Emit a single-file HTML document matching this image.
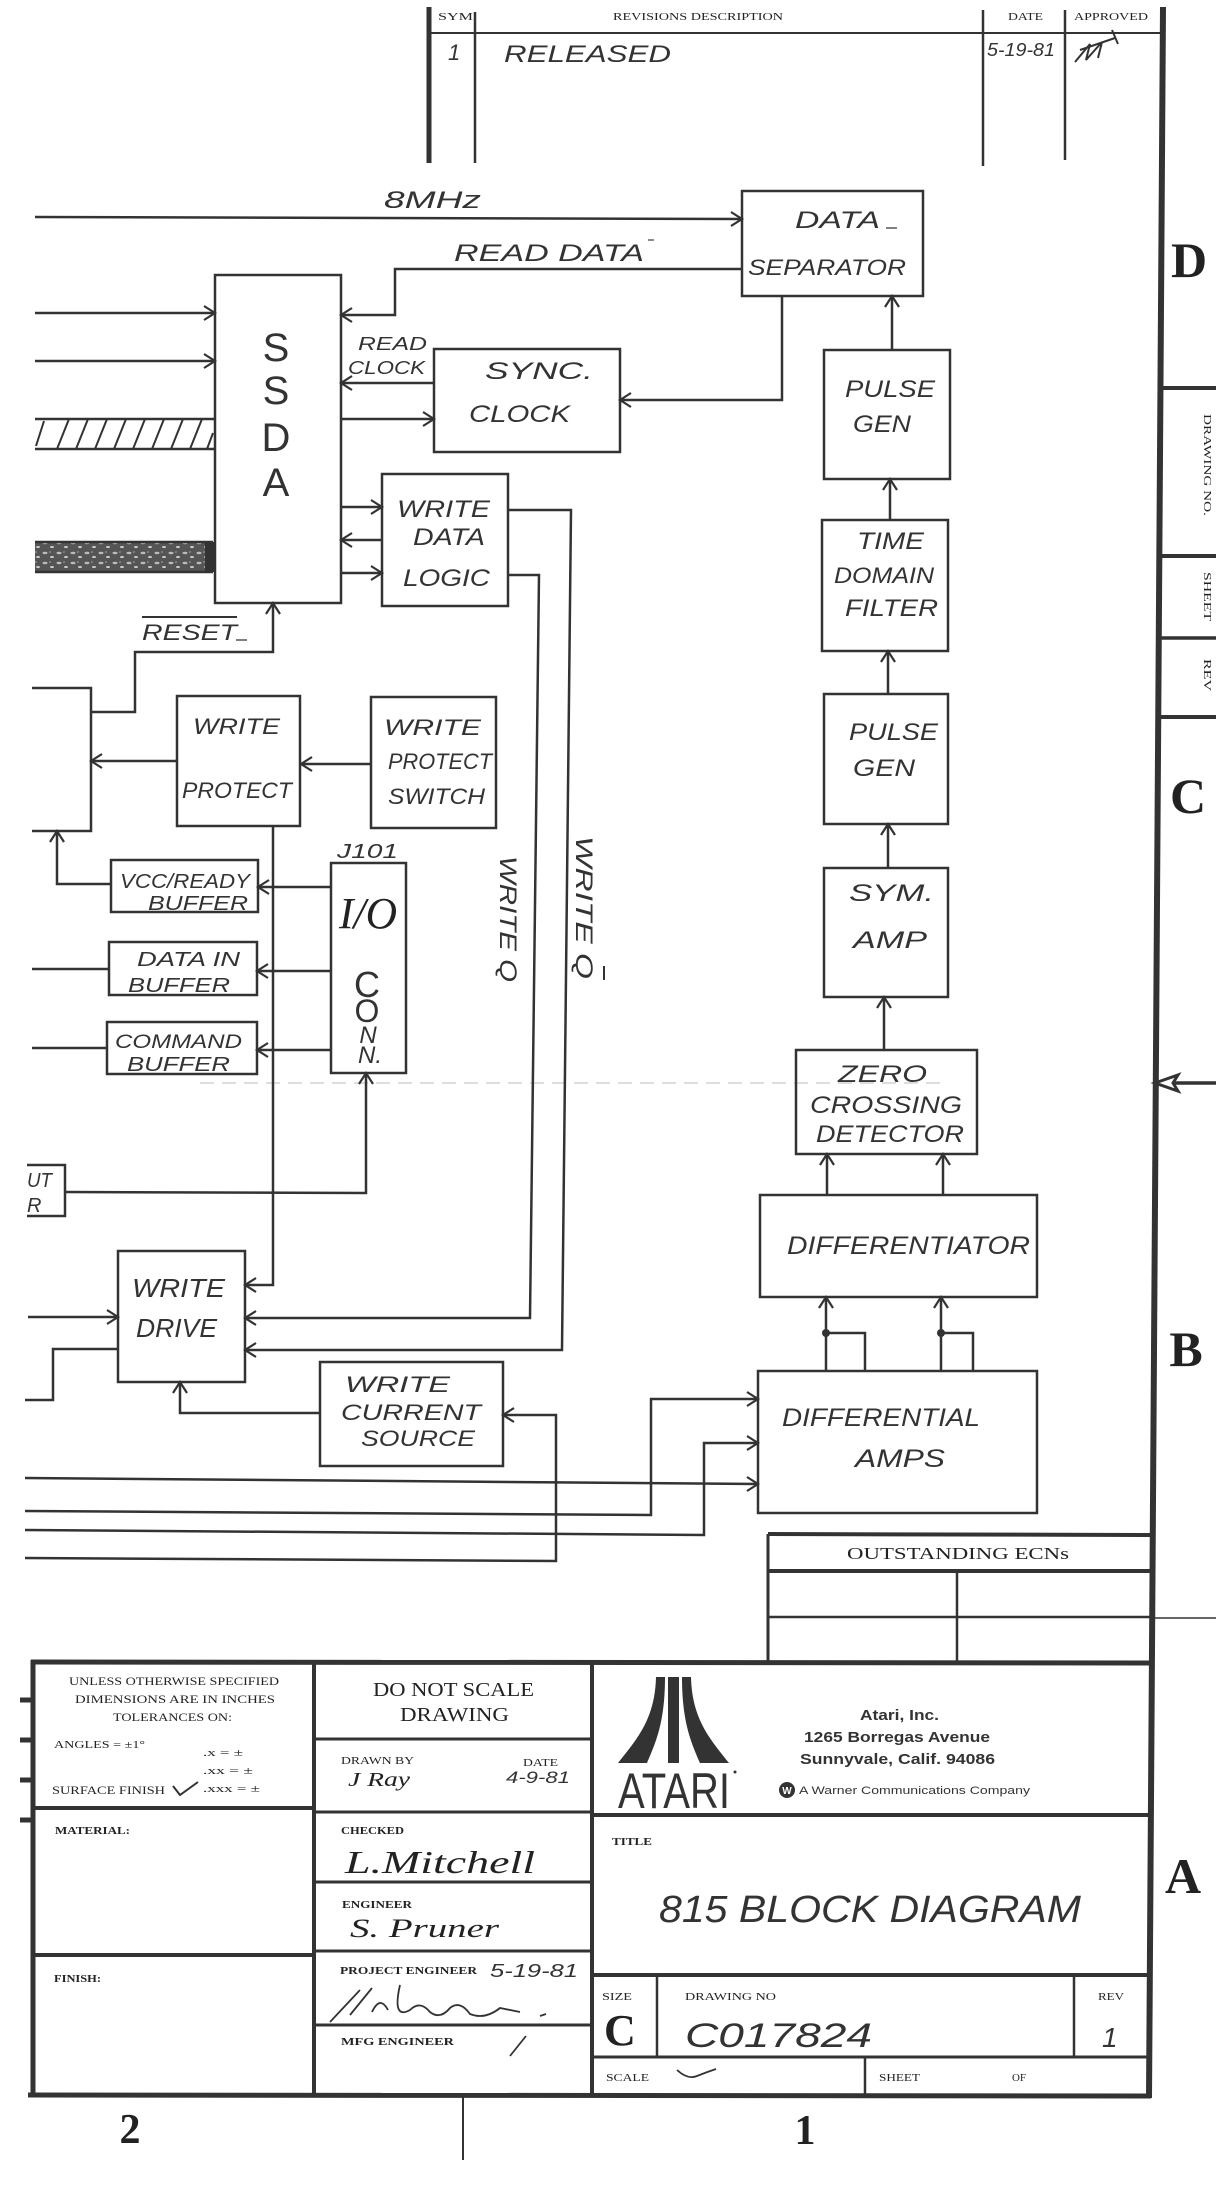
<!DOCTYPE html>
<html><head><meta charset="utf-8"><style>
html,body{margin:0;padding:0;background:#fff;}
svg{display:block;}
.t{font-family:"Liberation Sans",sans-serif;font-style:italic;fill:#333;}
.u{font-family:"Liberation Sans",sans-serif;fill:#333;}
.s{font-family:"Liberation Serif",serif;fill:#222;}
.l{fill:none;stroke:#333;stroke-width:2.5;stroke-linejoin:miter;}
.a{fill:none;stroke:#333;stroke-width:2.2;}
</style></head><body>
<svg width="1216" height="2189" viewBox="0 0 1216 2189" xmlns="http://www.w3.org/2000/svg">
<defs>
<pattern id="mot" width="14" height="10" patternUnits="userSpaceOnUse">
<rect width="14" height="10" fill="#555"/>
<ellipse cx="3" cy="3" rx="2.5" ry="1.2" fill="#bbb"/>
<ellipse cx="10" cy="7" rx="2" ry="1" fill="#ccc"/>
<ellipse cx="8" cy="2" rx="1" ry="0.8" fill="#999"/>
</pattern>
</defs>
<rect width="1216" height="2189" fill="#fff"/>

<!-- Revision table -->
<line x1="429" y1="7" x2="429" y2="163" stroke="#333" stroke-width="5"/>
<line x1="475" y1="12" x2="475" y2="163" stroke="#333" stroke-width="2.5"/>
<line x1="983" y1="10" x2="983" y2="166" stroke="#333" stroke-width="2.5"/>
<line x1="1065" y1="10" x2="1065" y2="160" stroke="#333" stroke-width="2.5"/>
<line x1="429" y1="33" x2="1163" y2="33" stroke="#333" stroke-width="2"/>
<text class="s" x="438" y="20" font-size="10" textLength="35" lengthAdjust="spacingAndGlyphs">SYM</text>
<text class="s" x="613" y="20" font-size="10" textLength="170" lengthAdjust="spacingAndGlyphs">REVISIONS DESCRIPTION</text>
<text class="s" x="1008" y="20" font-size="10" textLength="35" lengthAdjust="spacingAndGlyphs">DATE</text>
<text class="s" x="1074" y="20" font-size="10" textLength="74" lengthAdjust="spacingAndGlyphs">APPROVED</text>
<text class="t" x="448" y="60" font-size="22">1</text>
<text class="t" x="504" y="62" font-size="24" textLength="167" lengthAdjust="spacingAndGlyphs">RELEASED</text>
<text class="t" x="987" y="56" font-size="18" textLength="68" lengthAdjust="spacingAndGlyphs">5-19-81</text>
<path d="M1075 62 L1090 44 L1086 60 L1102 42 L1098 58 M1080 50 L1115 38 M1112 30 L1118 44" fill="none" stroke="#333" stroke-width="2"/>

<!-- Main border -->
<line x1="1163" y1="7" x2="1149" y2="2098" stroke="#333" stroke-width="6"/>
<line x1="1161" y1="388" x2="1216" y2="388" stroke="#333" stroke-width="4"/>
<line x1="1160" y1="556" x2="1216" y2="556" stroke="#333" stroke-width="4"/>
<line x1="1160" y1="638" x2="1216" y2="638" stroke="#333" stroke-width="3.5"/>
<line x1="1160" y1="717" x2="1216" y2="717" stroke="#333" stroke-width="4"/>
<text class="s" font-size="11" transform="translate(1204,414) rotate(90)" textLength="102" lengthAdjust="spacingAndGlyphs">DRAWING NO.</text>
<text class="s" font-size="11" transform="translate(1204,572) rotate(90)" textLength="49" lengthAdjust="spacingAndGlyphs">SHEET</text>
<text class="s" font-size="11" transform="translate(1204,659) rotate(90)" textLength="32" lengthAdjust="spacingAndGlyphs">REV</text>
<text class="s" x="1189" y="277" font-size="50" font-weight="bold" text-anchor="middle">D</text>
<text class="s" x="1188" y="813" font-size="50" font-weight="bold" text-anchor="middle">C</text>
<text class="s" x="1186" y="1366" font-size="50" font-weight="bold" text-anchor="middle">B</text>
<text class="s" x="1183" y="1893" font-size="50" font-weight="bold" text-anchor="middle">A</text>
<path d="M1155 1083 L1178 1075 L1173 1083 L1178 1091 Z" fill="none" stroke="#333" stroke-width="3"/>
<line x1="1175" y1="1083" x2="1216" y2="1083" stroke="#333" stroke-width="3.5"/>
<line x1="1150" y1="1618" x2="1216" y2="1618" stroke="#333" stroke-width="1.5"/>
<line x1="200" y1="1083" x2="940" y2="1083" stroke="#bbb" stroke-width="1" stroke-dasharray="14 8"/>

<!-- 8MHz -->
<path class="l" d="M35 217 L742 219"/>
<path class="a" d="M731 212 L742 219 L731 226"/>
<text class="t" x="384" y="208" font-size="24" textLength="97" lengthAdjust="spacingAndGlyphs">8MHz</text>

<!-- DATA SEPARATOR -->
<rect class="l" x="742" y="191" width="181" height="105"/>
<text class="t" x="795" y="228" font-size="24" textLength="85" lengthAdjust="spacingAndGlyphs">DATA</text>
<line x1="886" y1="228" x2="897" y2="228" stroke="#555" stroke-width="1.5"/>
<text class="t" x="748" y="275" font-size="22" textLength="158" lengthAdjust="spacingAndGlyphs">SEPARATOR</text>

<!-- READ DATA -->
<path class="l" d="M742 269 L395 269 L395 315 L341 315"/>
<path class="a" d="M352 308 L341 315 L352 322"/>
<text class="t" x="454" y="261" font-size="24" textLength="190" lengthAdjust="spacingAndGlyphs">READ DATA</text>
<line x1="648" y1="240" x2="654" y2="240" stroke="#666" stroke-width="1.5"/>

<!-- SSDA -->
<rect class="l" x="215" y="275" width="126" height="328"/>
<text class="u" x="276" y="361" font-size="40" text-anchor="middle">S</text>
<text class="u" x="276" y="404" font-size="40" text-anchor="middle">S</text>
<text class="u" x="276" y="451" font-size="40" text-anchor="middle">D</text>
<text class="u" x="276" y="496" font-size="40" text-anchor="middle">A</text>
<path class="l" d="M35 313 L215 313 M35 361 L215 361"/>
<path class="a" d="M204 306 L215 313 L204 320 M204 354 L215 361 L204 368"/>
<!-- hatched bus -->
<path class="l" d="M35 419 L215 419 M35 449 L215 449"/>
<path fill="none" stroke="#333" stroke-width="2" d="M36 446 L44 421 M57 449 L69 419 M76 449 L88 419 M95 449 L107 419 M114 449 L126 419 M133 449 L145 419 M152 449 L164 419 M171 449 L183 419 M190 449 L202 419 M207 449 L213 433"/>
<!-- gray bus -->
<rect x="35" y="542" width="178" height="30" fill="url(#mot)"/>
<path class="l" d="M35 542 L213 542 M35 572 L213 572"/>
<rect x="205" y="542" width="9" height="30" fill="#333"/>

<!-- READ CLOCK / SYNC CLOCK -->
<path class="l" d="M434 383 L341 383"/>
<path class="a" d="M352 376 L341 383 L352 390"/>
<text class="t" x="358" y="350" font-size="18" textLength="69" lengthAdjust="spacingAndGlyphs">READ</text>
<text class="t" x="348" y="374" font-size="18" textLength="77" lengthAdjust="spacingAndGlyphs">CLOCK</text>
<path class="l" d="M341 419 L434 419"/>
<path class="a" d="M423 412 L434 419 L423 426"/>
<rect class="l" x="434" y="349" width="186" height="103"/>
<text class="t" x="485" y="379" font-size="24" textLength="108" lengthAdjust="spacingAndGlyphs">SYNC.</text>
<text class="t" x="469" y="422" font-size="24" textLength="101" lengthAdjust="spacingAndGlyphs">CLOCK</text>
<path class="l" d="M782 296 L782 400 L620 400"/>
<path class="a" d="M631 393 L620 400 L631 407"/>

<!-- Right column -->
<rect class="l" x="824" y="350" width="126" height="129"/>
<text class="t" x="845" y="397" font-size="24" textLength="90" lengthAdjust="spacingAndGlyphs">PULSE</text>
<text class="t" x="853" y="432" font-size="24" textLength="58" lengthAdjust="spacingAndGlyphs">GEN</text>
<path class="l" d="M892 350 L892 296"/>
<path class="a" d="M885 307 L892 296 L899 307"/>

<rect class="l" x="822" y="520" width="126" height="131"/>
<text class="t" x="857" y="549" font-size="24" textLength="67" lengthAdjust="spacingAndGlyphs">TIME</text>
<text class="t" x="834" y="583" font-size="22" textLength="100" lengthAdjust="spacingAndGlyphs">DOMAIN</text>
<text class="t" x="845" y="616" font-size="24" textLength="93" lengthAdjust="spacingAndGlyphs">FILTER</text>
<path class="l" d="M890 520 L890 479"/>
<path class="a" d="M883 490 L890 479 L897 490"/>

<rect class="l" x="824" y="694" width="124" height="130"/>
<text class="t" x="849" y="740" font-size="24" textLength="89" lengthAdjust="spacingAndGlyphs">PULSE</text>
<text class="t" x="853" y="776" font-size="24" textLength="62" lengthAdjust="spacingAndGlyphs">GEN</text>
<path class="l" d="M888 694 L888 651"/>
<path class="a" d="M881 662 L888 651 L895 662"/>

<rect class="l" x="824" y="868" width="124" height="129"/>
<text class="t" x="849" y="901" font-size="24" textLength="85" lengthAdjust="spacingAndGlyphs">SYM.</text>
<text class="t" x="853" y="948" font-size="24" textLength="74" lengthAdjust="spacingAndGlyphs">AMP</text>
<path class="l" d="M888 868 L888 824"/>
<path class="a" d="M881 835 L888 824 L895 835"/>

<rect class="l" x="796" y="1050" width="181" height="104"/>
<text class="t" x="838" y="1082" font-size="24" textLength="89" lengthAdjust="spacingAndGlyphs">ZERO</text>
<text class="t" x="810" y="1113" font-size="24" textLength="152" lengthAdjust="spacingAndGlyphs">CROSSING</text>
<text class="t" x="816" y="1142" font-size="24" textLength="148" lengthAdjust="spacingAndGlyphs">DETECTOR</text>
<path class="l" d="M884 1050 L884 997"/>
<path class="a" d="M877 1008 L884 997 L891 1008"/>

<path class="l" d="M827 1195 L827 1154 M943 1195 L943 1154"/>
<path class="a" d="M820 1165 L827 1154 L834 1165 M936 1165 L943 1154 L950 1165"/>

<rect class="l" x="760" y="1195" width="277" height="102"/>
<text class="t" x="787" y="1254" font-size="25" textLength="243" lengthAdjust="spacingAndGlyphs">DIFFERENTIATOR</text>

<path class="l" d="M826 1371 L826 1297 M826 1333 L865 1333 L865 1371 M941 1371 L941 1297 M941 1333 L973 1333 L973 1371"/>
<path class="a" d="M819 1308 L826 1297 L833 1308 M934 1308 L941 1297 L948 1308"/>
<circle cx="826" cy="1333" r="4" fill="#333"/>
<circle cx="941" cy="1333" r="4" fill="#333"/>

<rect class="l" x="758" y="1371" width="279" height="142"/>
<text class="t" x="782" y="1426" font-size="25" textLength="198" lengthAdjust="spacingAndGlyphs">DIFFERENTIAL</text>
<text class="t" x="855" y="1467" font-size="25" textLength="90" lengthAdjust="spacingAndGlyphs">AMPS</text>

<path class="l" d="M25 1511 L651 1515 L651 1399 L758 1399"/>
<path class="l" d="M25 1530 L704 1535 L704 1443 L758 1443"/>
<path class="l" d="M25 1478 L758 1484"/>
<path class="a" d="M747 1392 L758 1399 L747 1406 M747 1436 L758 1443 L747 1450 M747 1477 L758 1484 L747 1491"/>
<path class="l" d="M25 1558 L556 1561 L556 1415 L503 1415"/>
<path class="a" d="M514 1408 L503 1415 L514 1422"/>

<!-- WRITE CURRENT SOURCE -->
<rect class="l" x="320" y="1362" width="183" height="104"/>
<text class="t" x="345" y="1392" font-size="22" textLength="105" lengthAdjust="spacingAndGlyphs">WRITE</text>
<text class="t" x="341" y="1420" font-size="22" textLength="140" lengthAdjust="spacingAndGlyphs">CURRENT</text>
<text class="t" x="361" y="1446" font-size="22" textLength="114" lengthAdjust="spacingAndGlyphs">SOURCE</text>
<path class="l" d="M320 1413 L180 1413 L180 1382"/>
<path class="a" d="M173 1393 L180 1382 L187 1393"/>

<!-- WRITE DRIVE -->
<rect class="l" x="118" y="1251" width="127" height="131"/>
<text class="t" x="132" y="1297" font-size="26" textLength="93" lengthAdjust="spacingAndGlyphs">WRITE</text>
<text class="t" x="136" y="1337" font-size="26" textLength="81" lengthAdjust="spacingAndGlyphs">DRIVE</text>
<path class="l" d="M273 826 L273 1285 L245 1285"/>
<path class="l" d="M508 575 L539 575 L530 1318 L245 1318"/>
<path class="l" d="M508 510 L571 510 L562 1350 L245 1350"/>
<path class="a" d="M256 1278 L245 1285 L256 1292 M256 1311 L245 1318 L256 1325 M256 1343 L245 1350 L256 1357"/>
<path class="l" d="M28 1317 L118 1317"/>
<path class="a" d="M107 1310 L118 1317 L107 1324"/>
<path class="l" d="M118 1349 L53 1349 L53 1400 L25 1400"/>

<!-- WRITE Q labels -->
<text class="t" font-size="24" transform="translate(500,856) rotate(90)" textLength="126" lengthAdjust="spacingAndGlyphs">WRITE Q</text>
<text class="t" font-size="24" transform="translate(576,836) rotate(90)" textLength="143" lengthAdjust="spacingAndGlyphs">WRITE  Q</text>
<line x1="604" y1="966" x2="604" y2="980" stroke="#333" stroke-width="2"/>

<!-- WRITE DATA LOGIC -->
<rect class="l" x="382" y="474" width="126" height="132"/>
<text class="t" x="397" y="517" font-size="24" textLength="93" lengthAdjust="spacingAndGlyphs">WRITE</text>
<text class="t" x="413" y="545" font-size="24" textLength="72" lengthAdjust="spacingAndGlyphs">DATA</text>
<text class="t" x="403" y="586" font-size="24" textLength="87" lengthAdjust="spacingAndGlyphs">LOGIC</text>
<path class="l" d="M341 507 L382 507 M382 540 L341 540 M341 573 L382 573"/>
<path class="a" d="M371 500 L382 507 L371 514 M352 533 L341 540 L352 547 M371 566 L382 573 L371 580"/>

<!-- RESET -->
<path class="l" d="M273 603 L273 652 L135 652 L135 712 L92 712"/>
<path class="a" d="M266 614 L273 603 L280 614"/>
<text class="t" x="142" y="640" font-size="22" textLength="95" lengthAdjust="spacingAndGlyphs">RESET</text>
<line x1="142" y1="617" x2="237" y2="617" stroke="#333" stroke-width="2"/>
<line x1="236" y1="640" x2="247" y2="640" stroke="#555" stroke-width="1.5"/>

<!-- left partial box -->
<path class="l" d="M32 688 L91 688 L91 831 L32 831"/>
<path class="l" d="M177 761 L91 761"/>
<path class="a" d="M102 754 L91 761 L102 768"/>

<!-- WRITE PROTECT -->
<rect class="l" x="177" y="696" width="123" height="130"/>
<text class="t" x="193" y="734" font-size="22" textLength="87" lengthAdjust="spacingAndGlyphs">WRITE</text>
<text class="t" x="182" y="798" font-size="22" textLength="110" lengthAdjust="spacingAndGlyphs">PROTECT</text>
<rect class="l" x="371" y="697" width="125" height="131"/>
<text class="t" x="384" y="735" font-size="22" textLength="97" lengthAdjust="spacingAndGlyphs">WRITE</text>
<text class="t" x="388" y="769" font-size="22" textLength="104" lengthAdjust="spacingAndGlyphs">PROTECT</text>
<text class="t" x="388" y="804" font-size="22" textLength="97" lengthAdjust="spacingAndGlyphs">SWITCH</text>
<path class="l" d="M371 764 L301 764"/>
<path class="a" d="M312 757 L301 764 L312 771"/>

<!-- Buffers -->
<path class="l" d="M111 884 L57 884 L57 831"/>
<path class="a" d="M50 842 L57 831 L64 842"/>
<rect class="l" x="111" y="860" width="147" height="52"/>
<text class="t" x="120" y="888" font-size="20" textLength="130" lengthAdjust="spacingAndGlyphs">VCC/READY</text>
<text class="t" x="148" y="910" font-size="20" textLength="100" lengthAdjust="spacingAndGlyphs">BUFFER</text>
<rect class="l" x="109" y="942" width="148" height="53"/>
<text class="t" x="137" y="966" font-size="20" textLength="103" lengthAdjust="spacingAndGlyphs">DATA IN</text>
<text class="t" x="128" y="992" font-size="20" textLength="102" lengthAdjust="spacingAndGlyphs">BUFFER</text>
<rect class="l" x="107" y="1022" width="150" height="52"/>
<text class="t" x="115" y="1048" font-size="19" textLength="127" lengthAdjust="spacingAndGlyphs">COMMAND</text>
<text class="t" x="127" y="1071" font-size="20" textLength="103" lengthAdjust="spacingAndGlyphs">BUFFER</text>
<path class="l" d="M32 969 L109 969 M32 1048 L107 1048"/>
<path class="l" d="M331 887 L258 887 M331 971 L257 971 M331 1050 L257 1050"/>
<path class="a" d="M269 880 L258 887 L269 894 M268 964 L257 971 L268 978 M268 1043 L257 1050 L268 1057"/>

<!-- I/O CONN -->
<rect class="l" x="331" y="863" width="75" height="210"/>
<text class="t" x="337" y="858" font-size="20" textLength="61" lengthAdjust="spacingAndGlyphs">J101</text>
<text class="s" x="339" y="928" font-size="44" font-style="italic" fill="#333" textLength="58" lengthAdjust="spacingAndGlyphs">I/O</text>
<text class="u" x="367" y="997" font-size="36" text-anchor="middle">C</text>
<text class="u" x="367" y="1022" font-size="32" text-anchor="middle">O</text>
<text class="t" x="368" y="1043" font-size="24" text-anchor="middle">N</text>
<text class="t" x="370" y="1063" font-size="24" text-anchor="middle">N.</text>

<!-- UT/R partial -->
<path class="l" d="M27 1165 L65 1165 L65 1216 L27 1216"/>
<text class="t" x="27" y="1187" font-size="20" textLength="25" lengthAdjust="spacingAndGlyphs">UT</text>
<text class="t" x="27" y="1212" font-size="20">R</text>
<path class="l" d="M65 1192 L366 1193 L366 1073"/>
<path class="a" d="M359 1084 L366 1073 L373 1084"/>

<!-- ECN box -->
<line x1="768" y1="1534" x2="1150" y2="1535" stroke="#333" stroke-width="4"/>
<line x1="768" y1="1571" x2="1150" y2="1571" stroke="#333" stroke-width="4"/>
<line x1="768" y1="1617" x2="1150" y2="1617" stroke="#333" stroke-width="2.5"/>
<line x1="768" y1="1534" x2="768" y2="1662" stroke="#333" stroke-width="3"/>
<line x1="957" y1="1571" x2="957" y2="1662" stroke="#333" stroke-width="2.5"/>
<text class="s" x="847" y="1559" font-size="17" textLength="222" lengthAdjust="spacingAndGlyphs">OUTSTANDING ECNs</text>

<!-- Title block -->
<line x1="31" y1="1662" x2="1150" y2="1663" stroke="#333" stroke-width="5"/>
<line x1="33" y1="1660" x2="33" y2="2096" stroke="#333" stroke-width="5"/>
<line x1="28" y1="2095" x2="1151" y2="2096" stroke="#333" stroke-width="5"/>
<path stroke="#333" stroke-width="5" d="M20 1700 L33 1700 M20 1740 L33 1740 M20 1780 L33 1780 M20 1820 L33 1820"/>
<line x1="314" y1="1662" x2="314" y2="2095" stroke="#333" stroke-width="4"/>
<line x1="592" y1="1662" x2="592" y2="2095" stroke="#333" stroke-width="4"/>
<line x1="33" y1="1808" x2="314" y2="1808" stroke="#333" stroke-width="4"/>
<line x1="33" y1="1955" x2="314" y2="1955" stroke="#333" stroke-width="4"/>
<path stroke="#333" stroke-width="3" d="M314 1739 L592 1739 M314 1812 L592 1812 M314 1882 L592 1882 M314 1951 L592 1951 M314 2025 L592 2025"/>
<line x1="592" y1="1815" x2="1150" y2="1815" stroke="#333" stroke-width="4"/>
<line x1="592" y1="1975" x2="1150" y2="1975" stroke="#333" stroke-width="4"/>
<line x1="592" y1="2057" x2="1150" y2="2057" stroke="#333" stroke-width="3"/>
<line x1="657" y1="1975" x2="657" y2="2057" stroke="#333" stroke-width="2.5"/>
<line x1="1074" y1="1975" x2="1074" y2="2057" stroke="#333" stroke-width="2.5"/>
<line x1="865" y1="2057" x2="865" y2="2095" stroke="#333" stroke-width="2.5"/>

<text class="s" x="69" y="1685" font-size="12" textLength="210" lengthAdjust="spacingAndGlyphs">UNLESS OTHERWISE SPECIFIED</text>
<text class="s" x="75" y="1703" font-size="12" textLength="200" lengthAdjust="spacingAndGlyphs">DIMENSIONS ARE IN INCHES</text>
<text class="s" x="113" y="1721" font-size="12" textLength="119" lengthAdjust="spacingAndGlyphs">TOLERANCES ON:</text>
<text class="s" x="54" y="1748" font-size="11" textLength="91" lengthAdjust="spacingAndGlyphs">ANGLES = ±1°</text>
<text class="s" x="203" y="1756" font-size="10" textLength="40" lengthAdjust="spacingAndGlyphs">.x = ±</text>
<text class="s" x="203" y="1774" font-size="10" textLength="50" lengthAdjust="spacingAndGlyphs">.xx = ±</text>
<text class="s" x="203" y="1792" font-size="10" textLength="57" lengthAdjust="spacingAndGlyphs">.xxx = ±</text>
<text class="s" x="52" y="1794" font-size="12" textLength="113" lengthAdjust="spacingAndGlyphs">SURFACE FINISH</text>
<path d="M173 1786 L180 1795 L198 1782" fill="none" stroke="#333" stroke-width="2"/>
<text class="s" x="55" y="1834" font-size="11" font-weight="bold" textLength="75" lengthAdjust="spacingAndGlyphs">MATERIAL:</text>
<text class="s" x="54" y="1982" font-size="11" font-weight="bold" textLength="47" lengthAdjust="spacingAndGlyphs">FINISH:</text>

<text class="s" x="373" y="1696" font-size="20" textLength="161" lengthAdjust="spacingAndGlyphs">DO NOT SCALE</text>
<text class="s" x="400" y="1721" font-size="20" textLength="109" lengthAdjust="spacingAndGlyphs">DRAWING</text>
<text class="s" x="341" y="1764" font-size="11" textLength="73" lengthAdjust="spacingAndGlyphs">DRAWN BY</text>
<text class="s" x="523" y="1766" font-size="11" textLength="35" lengthAdjust="spacingAndGlyphs">DATE</text>
<text class="s" x="348" y="1786" font-size="20" font-style="italic" textLength="62" lengthAdjust="spacingAndGlyphs">J Ray</text>
<text class="t" x="506" y="1783" font-size="17" textLength="64" lengthAdjust="spacingAndGlyphs">4-9-81</text>
<text class="s" x="341" y="1834" font-size="11" font-weight="bold" textLength="63" lengthAdjust="spacingAndGlyphs">CHECKED</text>
<text class="s" x="345" y="1873" font-size="32" font-style="italic" textLength="190" lengthAdjust="spacingAndGlyphs">L.Mitchell</text>
<text class="s" x="342" y="1908" font-size="11" font-weight="bold" textLength="70" lengthAdjust="spacingAndGlyphs">ENGINEER</text>
<text class="s" x="350" y="1937" font-size="26" font-style="italic" textLength="149" lengthAdjust="spacingAndGlyphs">S. Pruner</text>
<text class="s" x="340" y="1974" font-size="11" font-weight="bold" textLength="137" lengthAdjust="spacingAndGlyphs">PROJECT ENGINEER</text>
<text class="t" x="490" y="1977" font-size="18" textLength="88" lengthAdjust="spacingAndGlyphs">5-19-81</text>
<path d="M330 2022 L360 1990 M350 2015 L372 1988 M372 2012 Q380 1995 388 2010 M400 1985 Q392 2020 410 2010 Q420 2000 430 2012 Q440 2020 450 2008 Q460 2000 470 2014 Q485 2020 500 2008 L520 2012 M540 2016 L546 2014" fill="none" stroke="#333" stroke-width="1.8"/>
<line x1="510" y1="2056" x2="526" y2="2036" stroke="#333" stroke-width="1.8"/>
<text class="s" x="341" y="2045" font-size="11" font-weight="bold" textLength="113" lengthAdjust="spacingAndGlyphs">MFG ENGINEER</text>

<!-- Atari logo -->
<rect x="668" y="1677" width="11" height="86" fill="#333"/>
<path d="M656 1677 L665 1677 C665 1722 656 1742 647 1763 L618 1763 C636 1740 655 1720 656 1677 Z" fill="#333"/>
<path d="M691 1677 L682 1677 C682 1722 691 1742 700 1763 L729 1763 C711 1740 692 1720 691 1677 Z" fill="#333"/>
<text class="u" x="618" y="1808" font-size="50" textLength="112" lengthAdjust="spacingAndGlyphs">ATARI</text>
<circle cx="735" cy="1772" r="1.5" fill="#333"/>
<text class="u" x="860" y="1720" font-size="15" font-weight="bold" textLength="79" lengthAdjust="spacingAndGlyphs">Atari, Inc.</text>
<text class="u" x="804" y="1742" font-size="15" font-weight="bold" textLength="186" lengthAdjust="spacingAndGlyphs">1265 Borregas Avenue</text>
<text class="u" x="800" y="1764" font-size="15" font-weight="bold" textLength="195" lengthAdjust="spacingAndGlyphs">Sunnyvale, Calif. 94086</text>
<circle cx="787" cy="1790" r="8" fill="#333"/>
<text x="787" y="1794" font-size="10" font-family="Liberation Sans, sans-serif" font-weight="bold" fill="#fff" text-anchor="middle">W</text>
<text class="u" x="799" y="1794" font-size="11" textLength="231" lengthAdjust="spacingAndGlyphs">A Warner Communications Company</text>

<text class="s" x="612" y="1845" font-size="11" font-weight="bold" textLength="40" lengthAdjust="spacingAndGlyphs">TITLE</text>
<text class="t" x="659" y="1922" font-size="38" textLength="422" lengthAdjust="spacingAndGlyphs">815 BLOCK DIAGRAM</text>
<text class="s" x="602" y="2000" font-size="11" textLength="30" lengthAdjust="spacingAndGlyphs">SIZE</text>
<text class="s" x="604" y="2045" font-size="44" font-weight="bold">C</text>
<text class="s" x="685" y="2000" font-size="11" textLength="91" lengthAdjust="spacingAndGlyphs">DRAWING NO</text>
<text class="t" x="685" y="2047" font-size="34" fill="#555" textLength="187" lengthAdjust="spacingAndGlyphs">C017824</text>
<text class="s" x="1098" y="2000" font-size="11" textLength="26" lengthAdjust="spacingAndGlyphs">REV</text>
<text class="t" x="1102" y="2047" font-size="28">1</text>
<text class="s" x="606" y="2081" font-size="11" textLength="43" lengthAdjust="spacingAndGlyphs">SCALE</text>
<path d="M677 2070 Q688 2080 697 2076 Q707 2072 716 2069" fill="none" stroke="#333" stroke-width="1.8"/>
<text class="s" x="879" y="2081" font-size="11" textLength="41" lengthAdjust="spacingAndGlyphs">SHEET</text>
<text class="s" x="1012" y="2081" font-size="11" textLength="14" lengthAdjust="spacingAndGlyphs">OF</text>

<!-- bottom zone numbers -->
<line x1="463" y1="2097" x2="463" y2="2160" stroke="#333" stroke-width="2"/>
<text class="s" x="130" y="2143" font-size="42" font-weight="bold" text-anchor="middle">2</text>
<text class="s" x="805" y="2144" font-size="42" font-weight="bold" text-anchor="middle">1</text>
</svg>
</body></html>
